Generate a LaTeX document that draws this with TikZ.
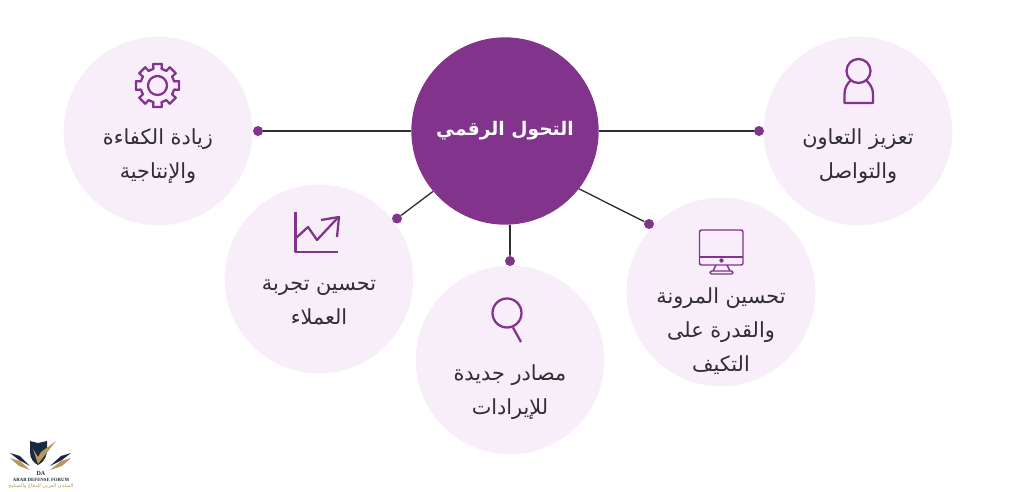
\documentclass[tikz,border=0pt]{standalone}
\usepackage{fontspec}
\TeXXeTstate=1
\newfontfamily\arabicfont[Script=Arabic]{DejaVu Sans}
\setmainfont{Liberation Serif}
\definecolor{mainpurple}{HTML}{82338B}
\definecolor{palepurple}{HTML}{F7EEFA}
\definecolor{inkgray}{HTML}{2E2E33}
\definecolor{logogold}{HTML}{B8975A}
\definecolor{logonavy}{HTML}{1C2A40}
\newcommand{\arline}[1]{\beginR #1\endR}
\tikzset{
    bubble/.style={circle, fill=palepurple, draw=none, inner sep=0pt, minimum size=141.5pt},
    hub/.style={circle, fill=mainpurple, draw=none, inner sep=0pt, minimum size=140.5pt},
    tipdot/.style={circle, fill=mainpurple, draw=none, inner sep=0pt, minimum size=7.5pt},
    link/.style={draw=inkgray, line width=1pt},
    icon/.style={draw=mainpurple, line width=1.7pt, line join=round},
    thinicon/.style={draw=mainpurple, line width=1.1pt, line join=round},
    caption/.style={text=inkgray, align=center, font=\arabicfont\fontsize{15.6}{25.5}\selectfont}
}
\begin{document}
\begin{tikzpicture}[x=0.75pt, y=-0.75pt]
\useasboundingbox (0,0) rectangle (1024,492);

% circles
\node[bubble] (gear) at (158,131) {};
\node[bubble] (person) at (858,131) {};
\node[bubble] (chart) at (319,279) {};
\node[bubble] (search) at (510,360) {};
\node[bubble] (monitor) at (721,292) {};
\node[hub, text=white, font=\arabicfont\bfseries\fontsize{14}{18}\selectfont] (main) at (505,131) {\raisebox{2pt}{\arline{التحول الرقمي}}};

% dots
\node[tipdot] (gearDot) at (258,131) {};
\node[tipdot] (personDot) at (759,131) {};
\node[tipdot] (chartDot) at (397,218.5) {};
\node[tipdot] (searchDot) at (510,261) {};
\node[tipdot] (monitorDot) at (649,224) {};

% links
\draw[link] (main.180) -- (gearDot);
\draw[link] (main.0) -- (personDot);
\draw[link] (main.220) -- (chartDot);
\draw[link, line width=1.4pt] (main.-87) -- (searchDot);
\draw[link] (main.-38) -- (monitorDot);

% labels
\node[caption] (gearText) at (158,156) {\arline{زيادة الكفاءة}\\\arline{والإنتاجية}};
\node[caption] (personText) at (858,156.5) {\arline{تعزيز التعاون}\\\arline{والتواصل}};
\node[caption] (chartText) at (319,302) {\arline{تحسين تجربة}\\\arline{العملاء}};
\node[caption] (searchText) at (510,392.5) {\arline{مصادر جديدة}\\\arline{للإيرادات}};
\node[caption] (monitorText) at (721,331.5) {\arline{تحسين المرونة}\\\arline{والقدرة على}\\\arline{التكيف}};

% gear icon
\draw[icon] (157.5,85.5) circle (9.5*0.75pt);
\foreach \a in {0,45,...,315}{
    \draw[icon, line cap=round] ({157.5+17*cos(\a-22.5)},{85.5+17*sin(\a-22.5)})
        -- ({157.5+17*cos(\a-14)},{85.5+17*sin(\a-14)})
        -- ({157.5+22*cos(\a-11)},{85.5+22*sin(\a-11)})
        -- ({157.5+22*cos(\a+11)},{85.5+22*sin(\a+11)})
        -- ({157.5+17*cos(\a+14)},{85.5+17*sin(\a+14)})
        -- ({157.5+17*cos(\a+22.5)},{85.5+17*sin(\a+22.5)});
}

% person icon
\draw[icon] (858.5,71) circle (12*0.75pt);
\draw[icon] (851,80) .. controls (847,84) and (844.5,88) .. (844.5,94) -- (844.5,103)
    -- (873,103) -- (873,94) .. controls (873,88) and (870,84) .. (866,80);

% chart icon
\draw[icon] (295.5,212) -- (295.5,252) -- (338,252);
\draw[icon] (296,238) -- (308,227) -- (317,240) -- (338,217.5);
\draw[icon] (321,220) -- (339,217) -- (337,237);

% search icon
\draw[icon] (507,313) circle (14.5*0.75pt);
\draw[icon] (513,327.5) -- (521,342);

% monitor icon
\draw[thinicon, rounded corners=1.5pt] (699.5,230) rectangle (743,265);
\draw[thinicon] (699.5,257) -- (743,257);
\draw[thinicon] (721.5,260.5) circle (1.5*0.75pt);
\draw[thinicon] (716,265) -- (713,271);
\draw[thinicon] (727,265) -- (730,271);
\draw[thinicon, rounded corners=1pt] (710,271) rectangle (733,274);

% logo
\fill[logonavy] (30,441) -- (38,443) -- (47,441) -- (47,452) .. controls (46,459) and (42,463) .. (38,465)
    .. controls (34,463) and (30,459) .. (30,452) -- cycle;
\fill[logogold] (33,449) -- (38,464) -- (56,441) -- (41,452) -- (38,457) -- cycle;
\fill[logonavy] (10,453) -- (20,456) -- (30,466) -- (19,460) -- cycle;
\fill[logogold] (10,458) -- (20,461) -- (30,470) -- (19,466) -- cycle;
\fill[logonavy] (71,453) -- (61,456) -- (50,466) -- (62,460) -- cycle;
\fill[logogold] (71,458) -- (61,461) -- (50,470) -- (62,466) -- cycle;
\node[text=logonavy, inner sep=0pt, font=\bfseries\fontsize{4.5}{5}\selectfont] (logoMark) at (41,474) {DA};
\node[text=logonavy, inner sep=0pt, font=\bfseries\fontsize{3.6}{4}\selectfont] (logoName) at (41,479.5) {ARAB DEFENSE FORUM};
\node[text=logogold, inner sep=0pt, font=\arabicfont\fontsize{3.8}{4}\selectfont] (logoArabic) at (41,486) {\arline{المنتدى العربي للدفاع والتسليح}};

\end{tikzpicture}
\end{document}
